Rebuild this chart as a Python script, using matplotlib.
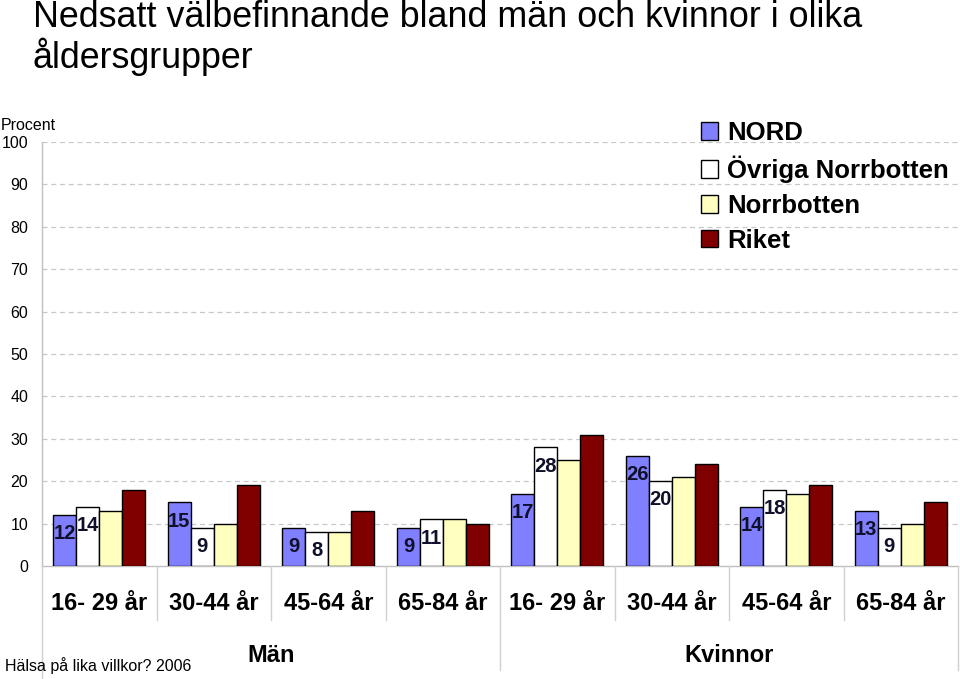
import matplotlib
matplotlib.use("Agg")
import matplotlib.pyplot as plt
import matplotlib.transforms as mtransforms
from matplotlib.lines import Line2D
from matplotlib.patches import Patch
import numpy as np

plt.rcParams['font.family'] = ['Liberation Sans', 'DejaVu Sans']

title = "Nedsatt välbefinnande bland män och kvinnor i olika\nåldersgrupper"
categories = ["16- 29 år", "30-44 år", "45-64 år", "65-84 år",
              "16- 29 år", "30-44 år", "45-64 år", "65-84 år"]
groups = ["Män", "Kvinnor"]
series_names = ["NORD", "Övriga Norrbotten", "Norrbotten", "Riket"]
nord = [12, 15, 9, 9, 17, 26, 14, 13]
ovriga = [14, 9, 8, 11, 28, 20, 18, 9]
norrbotten = [13, 10, 8, 11, 25, 21, 17, 10]
riket = [18, 19, 13, 10, 31, 24, 19, 15]
labelled = [True, True, False, False]
colors = ["#8080FF", "#FFFFFF", "#FFFFC0", "#800000"]
yticks = [0, 10, 20, 30, 40, 50, 60, 70, 80, 90, 100]

W, H = 960, 679
fig = plt.figure(figsize=(W / 100, H / 100), dpi=100)
ax = fig.add_axes([42 / W, 1 - 566 / H, (958 - 42) / W, (566 - 142) / H])

n = len(categories)
x = np.arange(n)
bw = 0.2
series = [nord, ovriga, norrbotten, riket]
for i, (vals, col) in enumerate(zip(series, colors)):
    pos = x - 0.4 + bw * (i + 0.5)
    ax.bar(pos, vals, width=bw, color=col, edgecolor="black",
           linewidth=1.0, zorder=3)
    if labelled[i]:
        for xp, v in zip(pos, vals):
            ax.annotate(str(v), (xp, v), xytext=(0, -13.5), textcoords="offset points",
                        ha="center", va="center", fontsize=14.5, fontweight="bold",
                        color="#10102a", zorder=4)

ax.set_xlim(-0.5, n - 0.5)
ax.set_ylim(0, 100)
ax.set_yticks(yticks)
ax.set_yticklabels([str(t) for t in yticks], fontsize=11.5)
ax.tick_params(axis="y", length=0, pad=10)
ax.set_xticks([])
for t in yticks[1:]:
    ax.axhline(t, color="#c8c8c8", linestyle=(0, (4, 3)), linewidth=0.9, zorder=1)
for s in ["top", "right"]:
    ax.spines[s].set_visible(False)
ax.spines["left"].set_color("#c0c0c0")
ax.spines["bottom"].set_color("#c0c0c0")
ax.spines["left"].set_linewidth(1)
ax.spines["bottom"].set_linewidth(1)

# category labels and dividers
blend = mtransforms.blended_transform_factory(ax.transData, fig.transFigure)
for i, c in enumerate(categories):
    ax.text(i, 1 - 604 / H, c, transform=blend, ha="center", va="center",
            fontsize=17, fontweight="bold")
for b in np.arange(n + 1) - 0.5:
    if b == -0.5:
        y0 = 0.0
    elif b in (3.5, n - 0.5):
        y0 = 1 - 670 / H
    else:
        y0 = 1 - 620 / H
    fig.add_artist(Line2D([b, b], [1 - 566 / H, y0], transform=blend,
                          color="#d0d0d0", linewidth=1))
for j, g in enumerate(groups):
    ax.text(j * 4 + 1.5, 1 - 655 / H, g, transform=blend, ha="center", va="center",
            fontsize=17, fontweight="bold")

fig.text(33 / W, 1 - 68 / H, title, fontsize=25.8, ha="left", va="baseline",
         linespacing=1.09)
fig.text(1 / W, 1 - 125 / H, "Procent", fontsize=11.5, ha="left", va="center")
fig.text(5 / W, 1 - 666 / H, "Hälsa på lika villkor? 2006", fontsize=11.5,
         ha="left", va="center")

handles = [Patch(facecolor=c, edgecolor="black", linewidth=1) for c in colors]
leg = fig.legend(handles, series_names, loc="upper left",
                 bbox_to_anchor=(688 / W, 1 - 108 / H), frameon=False,
                 prop={"weight": "bold", "size": 18.5},
                 handlelength=0.68, handleheight=0.68, handletextpad=0.33,
                 labelspacing=0.42, borderpad=0)

fig.savefig("out.png", dpi=100)
